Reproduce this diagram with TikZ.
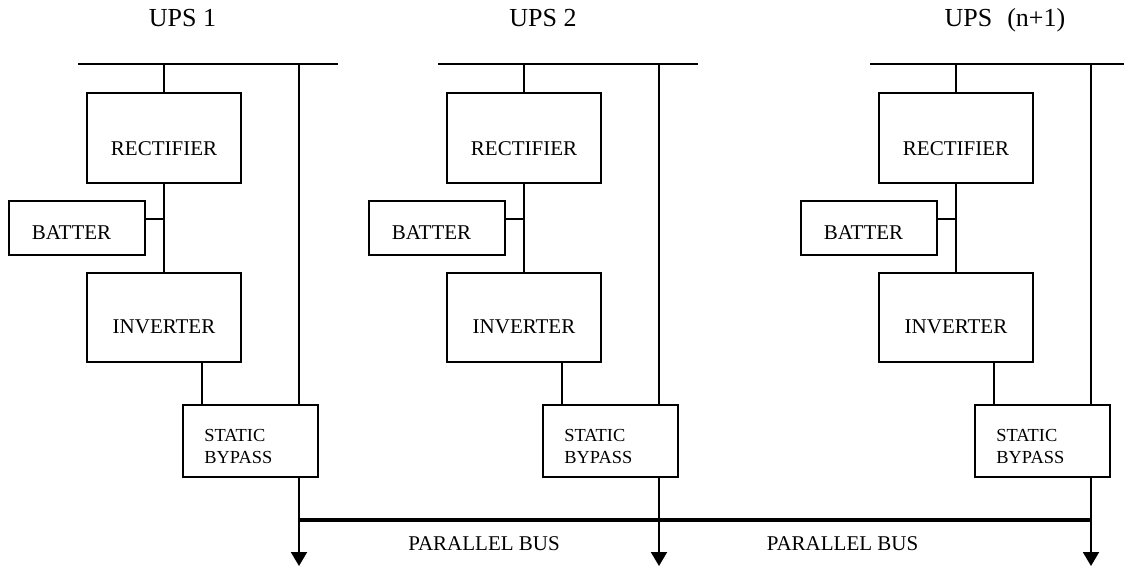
\documentclass[tikz,border=0pt]{standalone}
\usepackage{fontspec}
\setmainfont{Liberation Serif}
\usetikzlibrary{arrows.meta}

\tikzset{
  unit/.style={draw, line width=1pt, inner sep=0pt},
  lbl/.style={font=\fontsize{10.5}{12.6}\selectfont, inner sep=0pt, anchor=base},
  feed/.style={line width=1pt},
  tap/.style={line width=1pt, -{Triangle[width=8pt,length=7pt]}}
}

\begin{document}
\begin{tikzpicture}[x=0.5pt,y=-0.5pt]
  \useasboundingbox (0,0) rectangle (1124,566);
  \foreach \dx/\n/\tx/\name in {0/1/182.5/{UPS 1},360/2/183/{UPS 2},792/3/213/{UPS\hspace{7.5pt}(n+1)}} {
    \begin{scope}[xshift=\dx*0.5pt]
      \node[lbl, font=\fontsize{13}{15.6}\selectfont] (title\n) at (\tx,27) {\name};
      \coordinate (busL\n) at (78,64);
      \coordinate (busR\n) at (338,64);
      \coordinate (feed\n) at (164,64);
      \coordinate (byp\n) at (299,64);
      \coordinate (bj\n) at (164,219);
      \coordinate (si\n) at (202,405);
      \coordinate (pb\n) at (299,520);
      \coordinate (tip\n) at (299,566);
      \node[unit, minimum width=77pt, minimum height=45pt] (rect\n) at (164,138) {};
      \node[unit, minimum width=68pt, minimum height=27pt] (bat\n) at (77,228) {};
      \node[unit, minimum width=77pt, minimum height=44.5pt] (inv\n) at (164,317.5) {};
      \node[unit, minimum width=67.5pt, minimum height=36pt] (sbp\n) at (250.5,441) {};
      \node[lbl] at (164,156) {RECTIFIER};
      \node[lbl] at (71.5,239.5) {BATTER};
      \node[lbl] at (164,334) {INVERTER};
      \node[lbl, anchor=base west, align=left, font=\fontsize{9.2}{10.75}\selectfont]
        at (204,463.5) {STATIC\\BYPASS};
      \draw[feed] (busL\n) -- (busR\n);
      \draw[feed] (feed\n) -- (rect\n.north);
      \draw[feed] (rect\n.south) -- (inv\n.north);
      \draw[feed] (bj\n) -- (bj\n -| bat\n.east);
      \draw[feed] (inv\n.south -| si\n) -- (si\n);
      \draw[feed] (byp\n) -- (byp\n |- sbp\n.north);
      \draw[tap] (sbp\n.south -| byp\n) -- (tip\n);
    \end{scope}
  }
  \draw[line width=2pt] (pb1) -- (pb3);
  \node[lbl] (pbus1) at (484,550) {PARALLEL BUS};
  \node[lbl] (pbus2) at (842.5,550) {PARALLEL BUS};
\end{tikzpicture}
\end{document}
